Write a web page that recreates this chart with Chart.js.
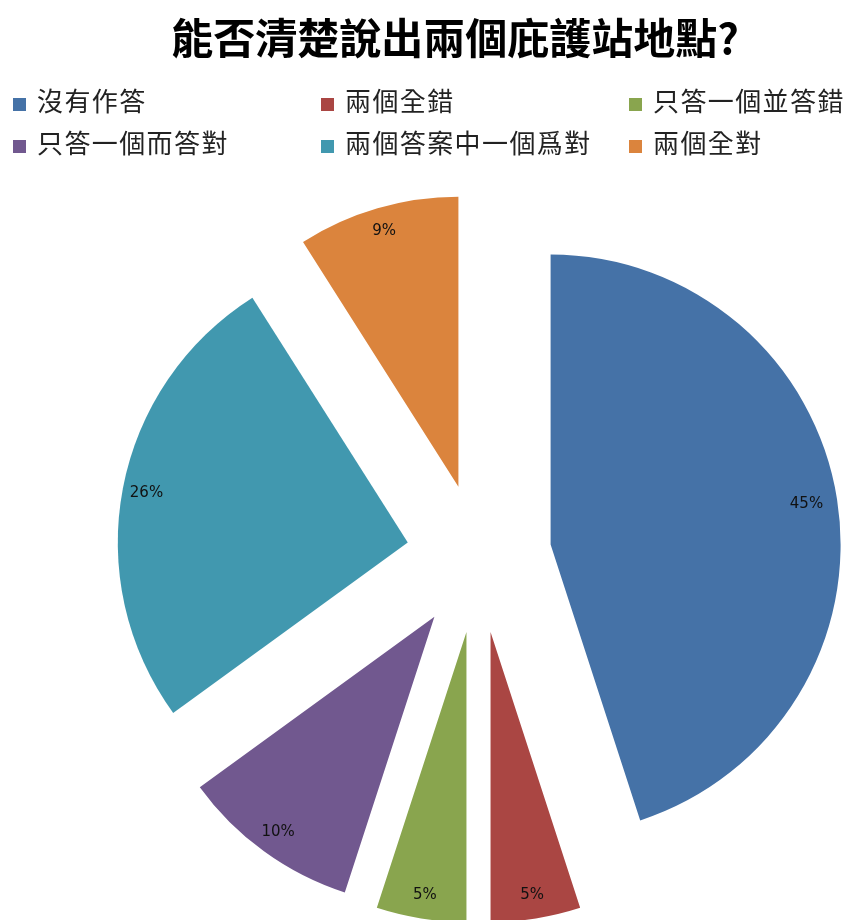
<!DOCTYPE html>
<html>
<head>
<meta charset="utf-8">
<script src="https://cdn.jsdelivr.net/npm/chart.js@4"></script>
<style>
  body { margin: 0; background: #fff; width: 849px; height: 920px; overflow: hidden; position: relative; }
  #title { position: absolute; left: 0; top: 6px; width: 910px; text-align: center;
           font: bold 42px "Noto Sans CJK TC", sans-serif; color: #000; line-height: 60px; }
  #legend { position: absolute; left: 13px; top: 79px; display: grid;
            grid-template-columns: 308px 308px 230px; row-gap: 2px; }
  .item { display: flex; align-items: center; font: 26px "Noto Sans CJK TC", sans-serif;
          letter-spacing: 1.4px; color: #222; height: 40px; white-space: nowrap; }
  .box { width: 13px; height: 13px; margin-right: 11px; margin-top: 10px; flex: none; }
  #wrap { position: absolute; left: 0; top: 0; width: 849px; height: 920px; }
</style>
</head>
<body>
<div id="wrap"><canvas id="pie"></canvas></div>
<div id="title">能否清楚說出兩個庇護站地點?</div>
<div id="legend"></div>
<script>
const labels = ['沒有作答', '兩個全錯', '只答一個並答錯', '只答一個而答對', '兩個答案中一個爲對', '兩個全對'];
const values = [45, 5, 5, 10, 26, 9];
const colors = ['#4572A7', '#AA4643', '#89A54E', '#71588F', '#4198AF', '#DB843D'];
// how far each slice is pulled out, px
const explodeBy = [73, 77, 77, 75, 72, 72];

const RADIUS = 290;
const LABEL_R = 266;

// move the slices ourselves: the built-in offset also grows the radius
const explode = {
  id: 'explode',
  afterDatasetsUpdate(chart) {
    chart.getDatasetMeta(0).data.forEach((arc, i) => {
      const mid = (arc.startAngle + arc.endAngle) / 2;
      arc.x += Math.cos(mid) * explodeBy[i];
      arc.y += Math.sin(mid) * explodeBy[i];
    });
  }
};

const pctLabels = {
  id: 'pctLabels',
  afterDatasetsDraw(chart) {
    const c = chart.ctx;
    const meta = chart.getDatasetMeta(0);
    c.save();
    c.font = '15px "DejaVu Sans", sans-serif';
    c.fillStyle = '#111';
    c.textAlign = 'center';
    c.textBaseline = 'middle';
    meta.data.forEach((arc, i) => {
      const mid = (arc.startAngle + arc.endAngle) / 2;
      const r = LABEL_R - 7 * Math.abs(Math.cos(mid)) * (i === 0 ? 1 : 0);
      c.fillText(values[i] + '%', arc.x + Math.cos(mid) * r, arc.y + Math.sin(mid) * r);
    });
    c.restore();
  }
};

new Chart(document.getElementById('pie'), {
  type: 'pie',
  data: {
    labels: labels,
    datasets: [{
      data: values,
      backgroundColor: colors,
      borderWidth: 0,
      hoverOffset: 0,
      clip: false
    }]
  },
  options: {
    responsive: true,
    maintainAspectRatio: false,
    animation: false,
    radius: RADIUS,
    layout: { padding: { left: 108, right: 0, top: 192, bottom: 0 } },
    plugins: {
      legend: { display: false },
      title: { display: false },
      tooltip: { enabled: false }
    }
  },
  plugins: [explode, pctLabels]
});

const lg = document.getElementById('legend');
labels.forEach((t, i) => {
  const d = document.createElement('div');
  d.className = 'item';
  d.innerHTML = `<span class="box" style="background:${colors[i]}"></span>${t}`;
  lg.appendChild(d);
});
</script>
</body>
</html>
